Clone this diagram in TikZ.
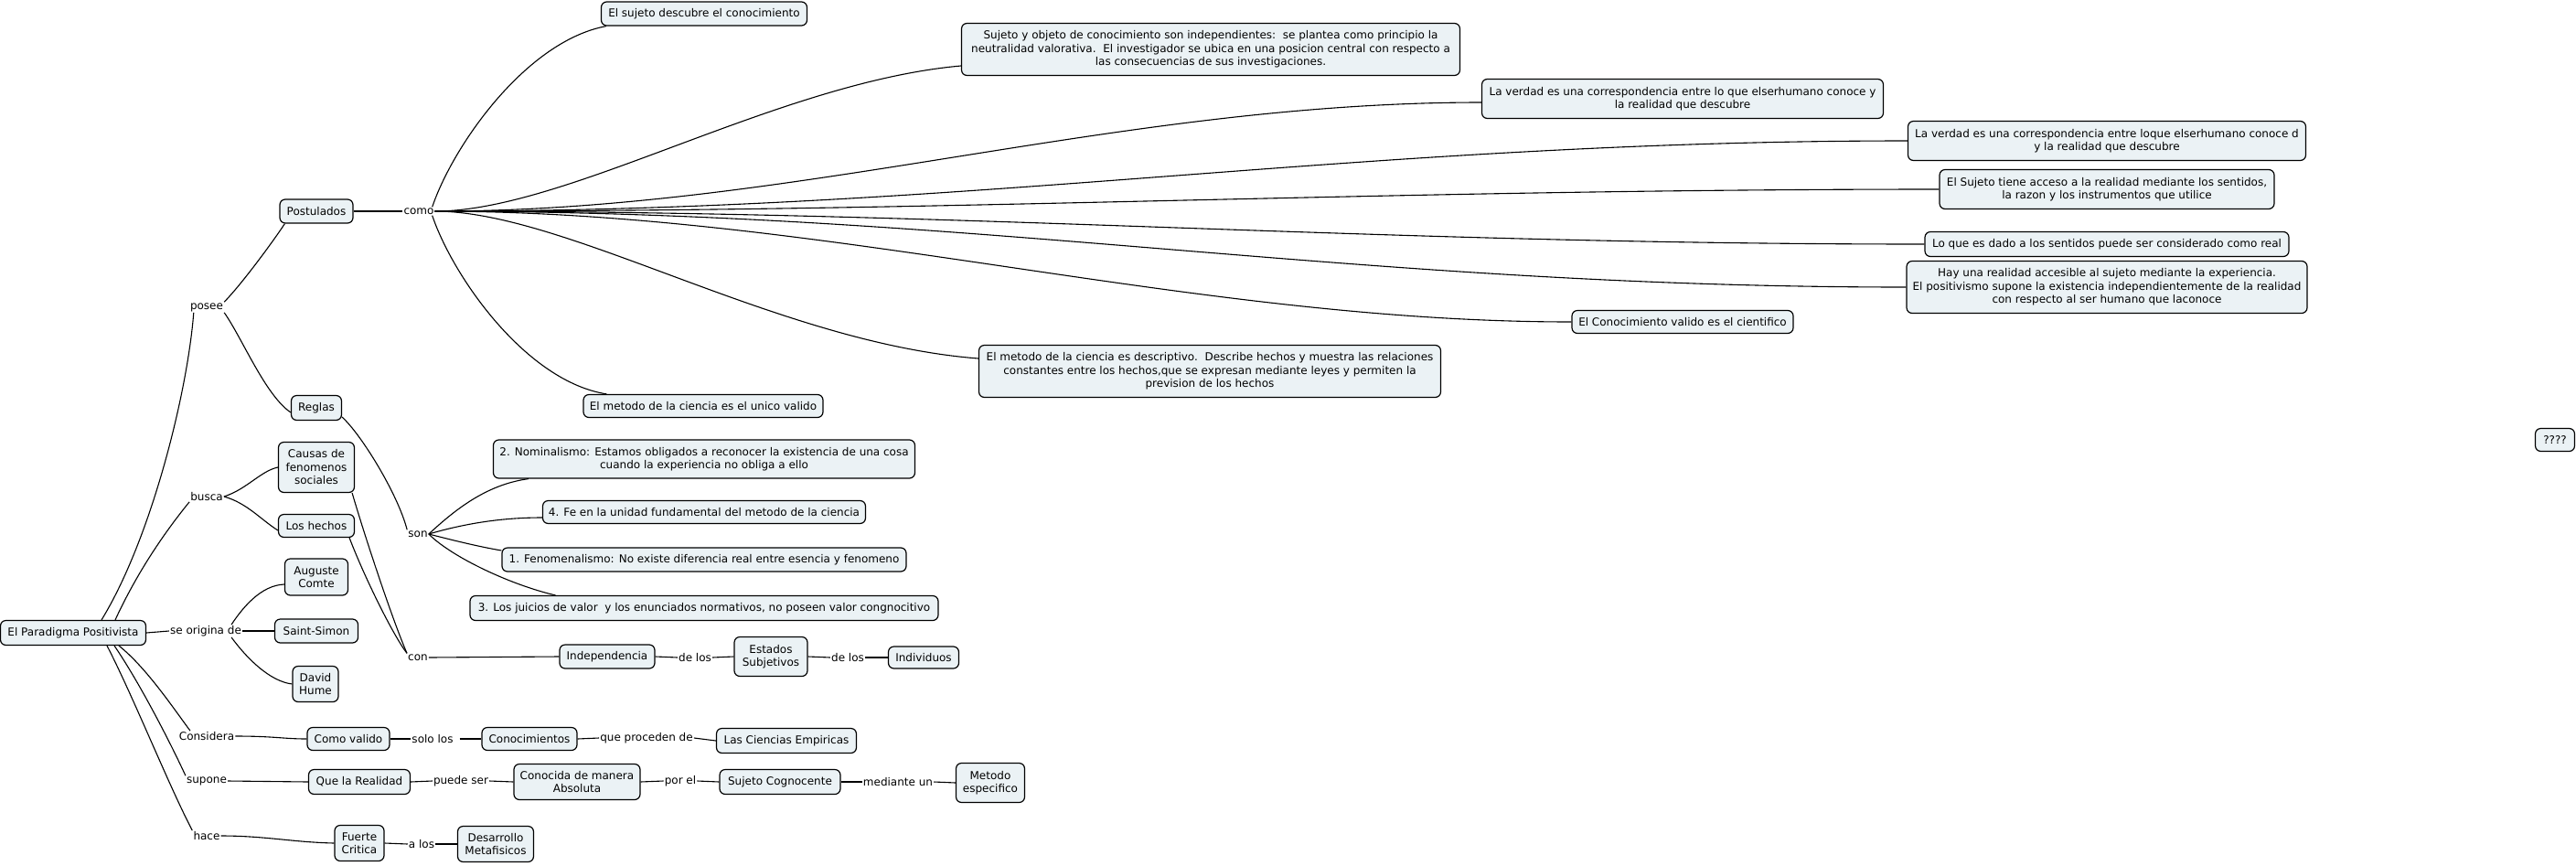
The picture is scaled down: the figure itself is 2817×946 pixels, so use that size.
\documentclass[tikz,border=0pt]{standalone}
\usepackage{fontspec}
\setmainfont{DejaVu Sans}
\definecolor{boxfill}{RGB}{235,242,245}
\begin{document}
\begin{tikzpicture}[x=1pt,y=-1pt,
  bx/.style={draw=black, line width=1.2pt, rounded corners=6pt, fill=boxfill, align=center, inner sep=1pt, font=\fontsize{12}{14.5}\selectfont},
  lb/.style={inner sep=1pt, font=\fontsize{12}{14.5}\selectfont},
  cn/.style={line width=1.1pt}]
\useasboundingbox (0,0) rectangle (2817,946);
% boxes
\node[bx,minimum width=159pt,minimum height=27pt] (par) at (80,692) {El Paradigma Positivista};
\node[bx,minimum width=80pt,minimum height=26pt] (post) at (346,231) {Postulados};
\node[bx,minimum width=55pt,minimum height=27pt] (reg) at (346,446) {Reglas};
\node[bx,minimum width=83pt,minimum height=55pt] (causas) at (346,511) {Causas de\\fenomenos\\sociales};
\node[bx,minimum width=83pt,minimum height=25pt] (hechos) at (346,575) {Los hechos};
\node[bx,minimum width=69pt,minimum height=40pt] (comte) at (346,631) {Auguste\\Comte};
\node[bx,minimum width=91pt,minimum height=26pt] (simon) at (346,690) {Saint-Simon};
\node[bx,minimum width=50pt,minimum height=39pt] (hume) at (345,748) {David\\Hume};
\node[bx,minimum width=90pt,minimum height=25pt] (comoval) at (381,808) {Como valido};
\node[bx,minimum width=104pt,minimum height=25pt] (conoc) at (579,808) {Conocimientos};
\node[bx,minimum width=153pt,minimum height=27pt] (ciencias) at (860,810) {Las Ciencias Empiricas};
\node[bx,minimum width=111pt,minimum height=27pt] (realidad) at (393,855) {Que la Realidad};
\node[bx,minimum width=138pt,minimum height=39pt] (conocida) at (631,855) {Conocida de manera\\Absoluta};
\node[bx,minimum width=132pt,minimum height=27pt] (sujcog) at (853,855) {Sujeto Cognocente};
\node[bx,minimum width=75pt,minimum height=43pt] (metodo) at (1083,856) {Metodo\\especifico};
\node[bx,minimum width=54pt,minimum height=39pt] (fuerte) at (393,922) {Fuerte\\Critica};
\node[bx,minimum width=83pt,minimum height=39pt] (desarr) at (542,923) {Desarrollo\\Metafisicos};
\node[bx,minimum width=104pt,minimum height=26pt] (indep) at (664,718) {Independencia};
\node[bx,minimum width=80pt,minimum height=43pt] (estados) at (843,718) {Estados\\Subjetivos};
\node[bx,minimum width=77pt,minimum height=24pt] (indiv) at (1010,719) {Individuos};
\node[bx,minimum width=461pt,minimum height=42pt] (nom) at (770,502) {2. Nominalismo: Estamos obligados a reconocer la existencia de una cosa\\cuando la experiencia no obliga a ello};
\node[bx,minimum width=353pt,minimum height=25pt] (fe) at (770,560) {4. Fe en la unidad fundamental del metodo de la ciencia};
\node[bx,minimum width=442pt,minimum height=26pt] (fen) at (770,612) {1. Fenomenalismo: No existe diferencia real entre esencia y fenomeno};
\node[bx,minimum width=512pt,minimum height=27pt] (juicios) at (770,665) {3. Los juicios de valor\ \ y los enunciados normativos, no poseen valor congnocitivo};
\node[bx,minimum width=225pt,minimum height=26pt] (sujeto) at (770,15) {El sujeto descubre el conocimiento};
\node[bx,minimum width=262pt,minimum height=25pt] (unico) at (769,444) {El metodo de la ciencia es el unico valido};
\node[bx,minimum width=545pt,minimum height=57pt] (sujobj) at (1324,54) {Sujeto y objeto de conocimiento son independientes:\ \ se plantea como principio la\\neutralidad valorativa.\ \ El investigador se ubica en una posicion central con respecto a\\las consecuencias de sus investigaciones.};
\node[bx,minimum width=439pt,minimum height=43pt] (verdad1) at (1840,108) {La verdad es una correspondencia entre lo que elserhumano conoce y\\la realidad que descubre};
\node[bx,minimum width=435pt,minimum height=43pt] (verdad2) at (2304,154) {La verdad es una correspondencia entre loque elserhumano conoce d\\y la realidad que descubre};
\node[bx,minimum width=366pt,minimum height=43pt] (acceso) at (2304,207) {El Sujeto tiene acceso a la realidad mediante los sentidos,\\la razon y los instrumentos que utilice};
\node[bx,minimum width=398pt,minimum height=27pt] (dado) at (2304,267) {Lo que es dado a los sentidos puede ser considerado como real};
\node[bx,minimum width=438pt,minimum height=57pt] (hay) at (2304,314) {Hay una realidad accesible al sujeto mediante la experiencia.\\El positivismo supone la existencia independientemente de la realidad\\con respecto al ser humano que laconoce};
\node[bx,minimum width=242pt,minimum height=25pt] (valido) at (1840,352) {El Conocimiento valido es el cientifico};
\node[bx,minimum width=505pt,minimum height=57pt] (descr) at (1323,406) {El metodo de la ciencia es descriptivo.\ \ Describe hechos y muestra las relaciones\\constantes entre los hechos,que se expresan mediante leyes y permiten la\\prevision de los hechos};
\node[bx,minimum width=43pt,minimum height=25pt] (qq) at (2794,481) {????};
% labels
\node[lb] (como) at (458,231) {como};
\node[lb] (posee) at (226,336) {posee};
\node[lb] (busca) at (226,543) {busca};
\node[lb] (orig) at (225,690) {se origina de};
\node[lb] (cons) at (226,805) {Considera};
\node[lb] (supone) at (226,854) {supone};
\node[lb] (hace) at (226,914) {hace};
\node[lb] (son) at (457,584) {son};
\node[lb] (con) at (457,719) {con};
\node[lb] (delosA) at (760,719) {de los};
\node[lb] (delosB) at (927,719) {de los};
\node[lb] (sololos) at (473,808) {solo los};
\node[lb] (proceden) at (707,807) {que proceden de};
\node[lb] (puede) at (504,854) {puede ser};
\node[lb] (porel) at (744,854) {por el};
\node[lb] (mediante) at (982,855) {mediante un};
\node[lb] (alos) at (461,923) {a los};
% connectors from paradigma
\draw[cn] ([xshift=31pt]par.north) .. controls (165,590) and (205,430) .. ([xshift=5pt]posee.south west);
\draw[cn] ([xshift=46pt]par.north) .. controls (155,615) and (190,570) .. (busca.south west);
\draw[cn] (par.east) -- (orig.west);
\draw[cn] ([xshift=50pt]par.south) .. controls (160,730) and (190,775) .. ([xshift=-18pt]cons.north);
\draw[cn] ([xshift=45pt]par.south) .. controls (155,750) and (190,820) .. (supone.north west);
\draw[cn] ([xshift=37pt]par.south) .. controls (145,760) and (185,860) .. (hace.north west);
% posee
\draw[cn] (posee.north east) .. controls (265,310) and (300,262) .. ([xshift=6pt]post.south west);
\draw[cn] (posee.south east) .. controls (265,370) and (290,432) .. ([yshift=-5pt]reg.west);
\draw[cn] (post.east) -- (como.west);
% como
\draw[cn] ([xshift=-3pt]como.north east) .. controls (495,160) and (575,45) .. ([xshift=6pt]sujeto.south west);
\draw[cn] ([xshift=-3pt]como.south east) .. controls (495,302) and (575,417) .. ([xshift=26pt]unico.north west);
\draw[cn] (como.east) .. controls (620,231) and (850,90) .. ([yshift=-18pt]sujobj.west);
\draw[cn] (como.east) .. controls (870,231) and (1220,112) .. ([yshift=-4pt]verdad1.west);
\draw[cn] (como.east) .. controls (1070,231) and (1490,154) .. (verdad2.west);
\draw[cn] (como.east) .. controls (1070,231) and (1520,207) .. (acceso.west);
\draw[cn] (como.east) .. controls (1070,231) and (1500,267) .. (dado.west);
\draw[cn] (como.east) .. controls (1070,231) and (1480,314) .. (hay.west);
\draw[cn] (como.east) .. controls (900,231) and (1300,352) .. (valido.west);
\draw[cn] (como.east) .. controls (620,231) and (850,375) .. ([yshift=14pt]descr.west);
% reglas
\draw[cn] ([yshift=4pt]reg.south east) .. controls (395,475) and (435,540) .. (son.north west);
\draw[cn] (son.east) .. controls (495,560) and (530,530) .. ([xshift=39pt]nom.south west);
\draw[cn] (son.east) .. controls (510,572) and (550,566) .. ([yshift=-6pt]fe.west);
\draw[cn] (son.east) .. controls (500,592) and (525,598) .. ([yshift=10pt]fen.west);
\draw[cn] (son.east) .. controls (495,610) and (560,640) .. ([xshift=94pt]juicios.north west);
% busca
\draw[cn] (busca.east) .. controls (270,535) and (285,515) .. (causas.west);
\draw[cn] (busca.east) .. controls (270,550) and (285,568) .. ([yshift=-5pt]hechos.west);
\draw[cn] ([xshift=-3pt]causas.south east) .. controls (400,590) and (430,680) .. (con.north west);
\draw[cn] ([xshift=-6pt]hechos.south east) .. controls (398,630) and (430,695) .. (con.north west);
\draw[cn] (con.east) -- (indep.west);
\draw[cn] (indep.east) -- (delosA.west);
\draw[cn] (delosA.east) -- (estados.west);
\draw[cn] (estados.east) -- (delosB.west);
\draw[cn] (delosB.east) -- (indiv.west);
% se origina de
\draw[cn] ([xshift=-12pt]orig.north east) .. controls (265,665) and (285,640) .. ([yshift=-8pt]comte.west);
\draw[cn] (orig.east) -- (simon.west);
\draw[cn] ([xshift=-12pt]orig.south east) .. controls (270,720) and (295,745) .. (hume.west);
% considera
\draw[cn] (cons.east) .. controls (300,805) and (310,808) .. (comoval.west);
\draw[cn] (comoval.east) -- (sololos.west);
\draw[cn] ([xshift=6pt]sololos.east) -- (conoc.west);
\draw[cn] (conoc.east) -- (proceden.west);
\draw[cn] (proceden.east) -- (ciencias.west);
% supone
\draw[cn] (supone.east) -- (realidad.west);
\draw[cn] (realidad.east) -- (puede.west);
\draw[cn] (puede.east) -- (conocida.west);
\draw[cn] (conocida.east) -- (porel.west);
\draw[cn] (porel.east) -- (sujcog.west);
\draw[cn] (sujcog.east) -- (mediante.west);
\draw[cn] (mediante.east) -- (metodo.west);
% hace
\draw[cn] (hace.east) .. controls (290,914) and (320,921) .. (fuerte.west);
\draw[cn] (fuerte.east) -- (alos.west);
\draw[cn] (alos.east) -- (desarr.west);
\end{tikzpicture}
\end{document}
